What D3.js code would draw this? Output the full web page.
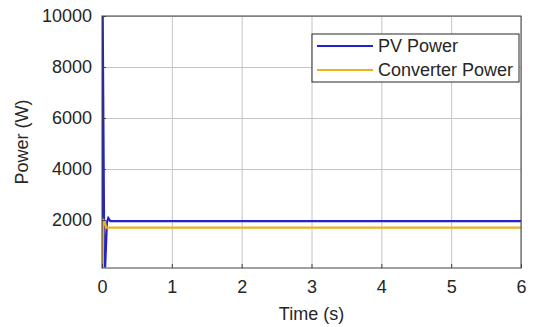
<!DOCTYPE html>
<html>
<head>
<script src="https://d3js.org/d3.v7.min.js"></script>
<style>
body { margin: 0; background: #fff; }
text { font-family: "Liberation Sans", Arial, sans-serif; fill: #262626; }
.grid line { stroke: #c4c4c4; stroke-width: 1; }
.axis path, .axis line { stroke: #404040; }
</style>
</head>
<body>
<script>

// time (s) and power (W)
var pvTime  = [0, 0.004, 0.010, 0.030, 0.045, 0.070, 0.090, 0.120, 6];
var pvPower = [150, 10000, 10000, 1500, 140, 1900, 2080, 1960, 1960];

var convTime  = [0, 0.010, 0.020, 0.040, 0.060, 6];
var convPower = [130, 160, 2000, 1950, 1700, 1700];

var xTicks = [0, 1, 2, 3, 4, 5, 6];
var yTicks = [2000, 4000, 6000, 8000, 10000];

var seriesNames = ["PV Power", "Converter Power"];
var seriesColors = ["#2222d2", "#edb120"];

var margin = {top: 16, right: 16, bottom: 59, left: 102};
var width = 537 - margin.left - margin.right,
    height = 327 - margin.top - margin.bottom;

var svg = d3.select("body").append("svg")
    .attr("width", 537)
    .attr("height", 327)
  .append("g")
    .attr("transform", "translate(" + margin.left + "," + margin.top + ")");

var xScale = d3.scaleLinear().domain([0, 6]).range([0, width]);
var yScale = d3.scaleLinear().domain([120, 10000]).range([height, 0]);

// grid
svg.append("g")
    .attr("class", "grid")
    .attr("transform", "translate(0," + height + ")")
    .call(d3.axisBottom(xScale).tickValues(xTicks).tickSize(-height).tickFormat(""))
    .call(function(g) { g.select(".domain").remove(); });

svg.append("g")
    .attr("class", "grid")
    .call(d3.axisLeft(yScale).tickValues(yTicks).tickSize(-width).tickFormat(""))
    .call(function(g) { g.select(".domain").remove(); });

svg.append("clipPath")
    .attr("id", "clip")
  .append("rect")
    .attr("width", width)
    .attr("height", height);

var line = d3.line()
    .x(function(d) { return xScale(d[0]); })
    .y(function(d) { return yScale(d[1]); });

var pvData = pvTime.map(function(t, i) { return [t, pvPower[i]]; });
var convData = convTime.map(function(t, i) { return [t, convPower[i]]; });

svg.append("path")
    .datum(pvData)
    .attr("clip-path", "url(#clip)")
    .attr("fill", "none")
    .attr("stroke", seriesColors[0])
    .attr("stroke-width", 2.2)
    .attr("d", line);

svg.append("path")
    .datum(convData)
    .attr("clip-path", "url(#clip)")
    .attr("fill", "none")
    .attr("stroke", seriesColors[1])
    .attr("stroke-width", 2.2)
    .attr("d", line);

// axes box
svg.append("rect")
    .attr("width", width)
    .attr("height", height)
    .attr("fill", "none")
    .attr("stroke", "#404040");

var xAxis = svg.append("g")
    .attr("class", "axis")
    .attr("transform", "translate(0," + height + ")")
    .call(d3.axisBottom(xScale).tickValues(xTicks).tickSize(-4).tickPadding(12).tickFormat(d3.format("d")));
xAxis.select(".domain").remove();
xAxis.selectAll("text").style("font-size", "18px");

var yAxis = svg.append("g")
    .attr("class", "axis")
    .call(d3.axisLeft(yScale).tickValues(yTicks).tickSize(-4).tickPadding(10).tickFormat(d3.format("d")));
yAxis.select(".domain").remove();
yAxis.selectAll("text").style("font-size", "18px");

svg.append("text")
    .attr("x", width / 2)
    .attr("y", height + 52)
    .attr("text-anchor", "middle")
    .style("font-size", "18px")
    .text("Time (s)");

svg.append("text")
    .attr("transform", "translate(" + (-74) + "," + (height / 2) + ") rotate(-90)")
    .attr("text-anchor", "middle")
    .style("font-size", "18px")
    .text("Power (W)");

// legend
var legend = svg.append("g")
    .attr("transform", "translate(" + (312 - margin.left) + "," + (34 - margin.top) + ")");

legend.append("rect")
    .attr("width", 207)
    .attr("height", 48)
    .attr("fill", "#fff")
    .attr("stroke", "#262626");

legend.selectAll(".item")
    .data(seriesNames)
  .enter().append("g")
    .attr("class", "item")
    .attr("transform", function(d, i) { return "translate(0," + (12 + i * 24) + ")"; })
    .each(function(d, i) {
      var g = d3.select(this);
      g.append("line")
        .attr("x1", 5).attr("x2", 61)
        .attr("stroke", seriesColors[i])
        .attr("stroke-width", 2);
      g.append("text")
        .attr("x", 66)
        .attr("dy", "0.35em")
        .style("font-size", "18px")
        .text(d);
    });

</script>
</body>
</html>
